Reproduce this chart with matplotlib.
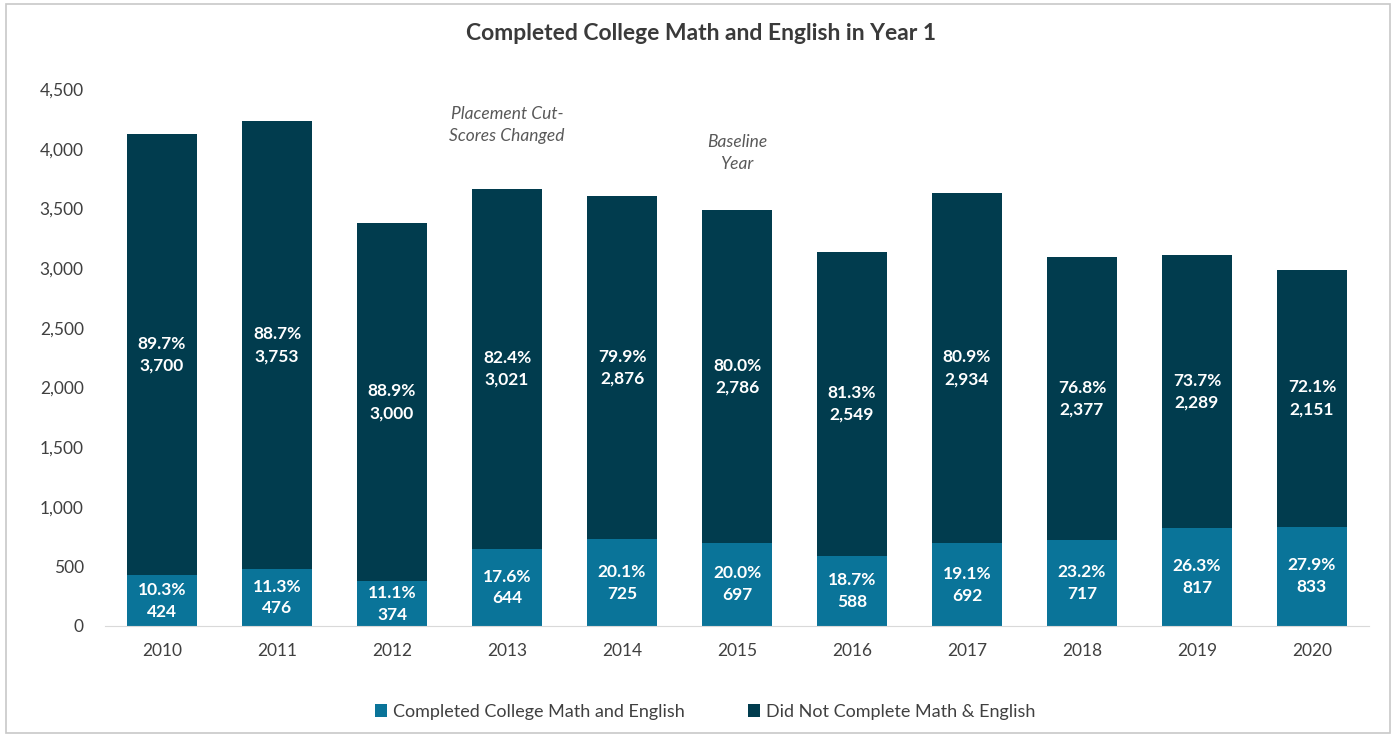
import numpy as np
import matplotlib.pyplot as plt
from matplotlib.patches import Rectangle

years = ["2010", "2011", "2012", "2013", "2014", "2015", "2016", "2017", "2018", "2019", "2020"]
completed = [424, 476, 374, 644, 725, 697, 588, 692, 717, 817, 833]
not_completed = [3700, 3753, 3000, 3021, 2876, 2786, 2549, 2934, 2377, 2289, 2151]
completed_pct = ["10.3%", "11.3%", "11.1%", "17.6%", "20.1%", "20.0%", "18.7%", "19.1%", "23.2%", "26.3%", "27.9%"]
not_pct = ["89.7%", "88.7%", "88.9%", "82.4%", "79.9%", "80.0%", "81.3%", "80.9%", "76.8%", "73.7%", "72.1%"]

light = "#0a7499"
dark = "#013c4e"
gray = "#404040"

plt.rcParams["font.family"] = ["Lato", "DejaVu Sans"]

fig = plt.figure(figsize=(13.96, 7.36), dpi=100)
ax = fig.add_axes([0.0749, 0.1495, 0.9061, 0.7296])
fig.patches.append(Rectangle((0.004, 0.004), 0.992, 0.99, transform=fig.transFigure,
                             fill=False, edgecolor="#c8c8c8", linewidth=1.2))

x = np.arange(len(years))
w = 0.61
ax.bar(x, completed, w, color=light, label="Completed College Math and English")
ax.bar(x, not_completed, w, bottom=completed, color=dark, label="Did Not Complete Math & English")

for i in range(len(years)):
    ax.text(x[i], completed[i] / 2, completed_pct[i] + "\n" + f"{completed[i]:,}",
            ha="center", va="center", color="white", fontsize=12.5, fontweight="bold", linespacing=1.45)
    ax.text(x[i], completed[i] + not_completed[i] / 2, not_pct[i] + "\n" + f"{not_completed[i]:,}",
            ha="center", va="center", color="white", fontsize=12.5, fontweight="bold", linespacing=1.45)

ax.text(3, 4200, "Placement Cut-\nScores Changed", ha="center", va="center",
        style="italic", color="#595959", fontsize=12.5, linespacing=1.5)
ax.text(5, 3965, "Baseline\nYear", ha="center", va="center",
        style="italic", color="#595959", fontsize=12.5, linespacing=1.5)

ax.set_xlim(-0.5, len(years) - 0.5)
ax.set_ylim(0, 4500)
ax.set_yticks(np.arange(0, 4501, 500))
ax.set_yticklabels([f"{v:,}" for v in range(0, 4501, 500)])
ax.set_xticks(x)
ax.set_xticklabels(years)
ax.tick_params(axis="both", length=0, colors=gray, labelsize=12.5)
ax.tick_params(axis="x", pad=12)
ax.tick_params(axis="y", pad=15)
for s in ["top", "right", "left"]:
    ax.spines[s].set_visible(False)
ax.spines["bottom"].set_color("#d9d9d9")

fig.text(0.502, 0.955, "Completed College Math and English in Year 1", ha="center", va="center",
         fontsize=16.5, fontweight="bold", color="#3a3a3a")

fig.legend(loc="center", bbox_to_anchor=(0.505, 0.033), ncol=2, frameon=False, fontsize=13,
           handlelength=0.7, handleheight=0.7, handletextpad=0.3, columnspacing=3.5, labelcolor=gray)

fig.savefig("out.png", dpi=100)
